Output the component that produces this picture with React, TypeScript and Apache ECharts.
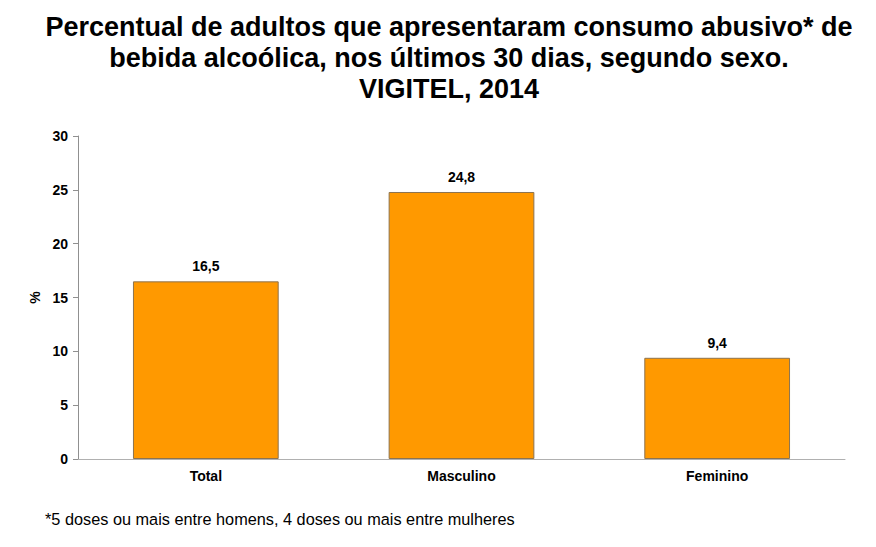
import React, { useEffect, useRef } from "react";
import * as echarts from "echarts";

const categories = ["Total", "Masculino", "Feminino"];
const values = [16.5, 24.8, 9.4];
const yTicks = [0, 5, 10, 15, 20, 25, 30];

export default function App() {
  const ref = useRef<HTMLDivElement>(null);
  useEffect(() => {
    if (!ref.current) return;
    const chart = echarts.init(ref.current, null, { renderer: "svg" });
    chart.setOption({
      animation: false,
      backgroundColor: "#ffffff",
      textStyle: { fontFamily: "Liberation Sans, Arial, sans-serif" },
      title: {
        text: "Percentual de adultos que apresentaram consumo abusivo* de\nbebida alcoólica, nos últimos 30 dias, segundo sexo.\nVIGITEL, 2014",
        left: 436,
        top: -2,
        textAlign: "center",
        textStyle: {
          fontSize: 27,
          fontWeight: "bold",
          color: "#000",
          lineHeight: 31,
          fontFamily: "Liberation Sans, Arial, sans-serif",
        },
      },
      graphic: [
        {
          type: "text",
          left: 37,
          top: 503,
          style: {
            text: "*5 doses ou mais entre homens, 4 doses ou mais entre mulheres",
            fontSize: 16.3,
            fill: "#000",
            fontFamily: "Liberation Sans, Arial, sans-serif",
          },
        },
      ],
      grid: { left: 70, right: 23, top: 128, bottom: 80, containLabel: false },
      xAxis: {
        type: "category",
        data: categories,
        axisLine: { lineStyle: { color: "#b0b0b0", width: 1 } },
        axisTick: { show: false },
        axisLabel: {
          color: "#000",
          fontWeight: "bold",
          fontSize: 14,
          margin: 10,
        },
      },
      yAxis: {
        type: "value",
        min: yTicks[0],
        max: yTicks[yTicks.length - 1],
        interval: 5,
        name: "%",
        nameLocation: "middle",
        nameGap: 36,
        nameRotate: 90,
        nameTextStyle: { color: "#000", fontWeight: "bold", fontSize: 14 },
        splitLine: { show: false },
        axisLine: { show: true, lineStyle: { color: "#909090", width: 1 } },
        axisTick: { show: true, length: 5, lineStyle: { color: "#909090" } },
        axisLabel: { color: "#000", fontWeight: "bold", fontSize: 14, margin: 10 },
      },
      series: [
        {
          type: "bar",
          data: values,
          barWidth: "57%",
          itemStyle: {
            color: "#ff9900",
            borderColor: "#8c7350",
            borderWidth: 1,
          },
          label: {
            show: true,
            position: "top",
            distance: 8,
            color: "#000",
            fontWeight: "bold",
            fontSize: 14,
            formatter: (p: any) => String(p.value).replace(".", ","),
          },
        },
      ],
    });
    return () => chart.dispose();
  }, []);
  return <div ref={ref} style={{ width: 860, height: 531 }} />;
}
